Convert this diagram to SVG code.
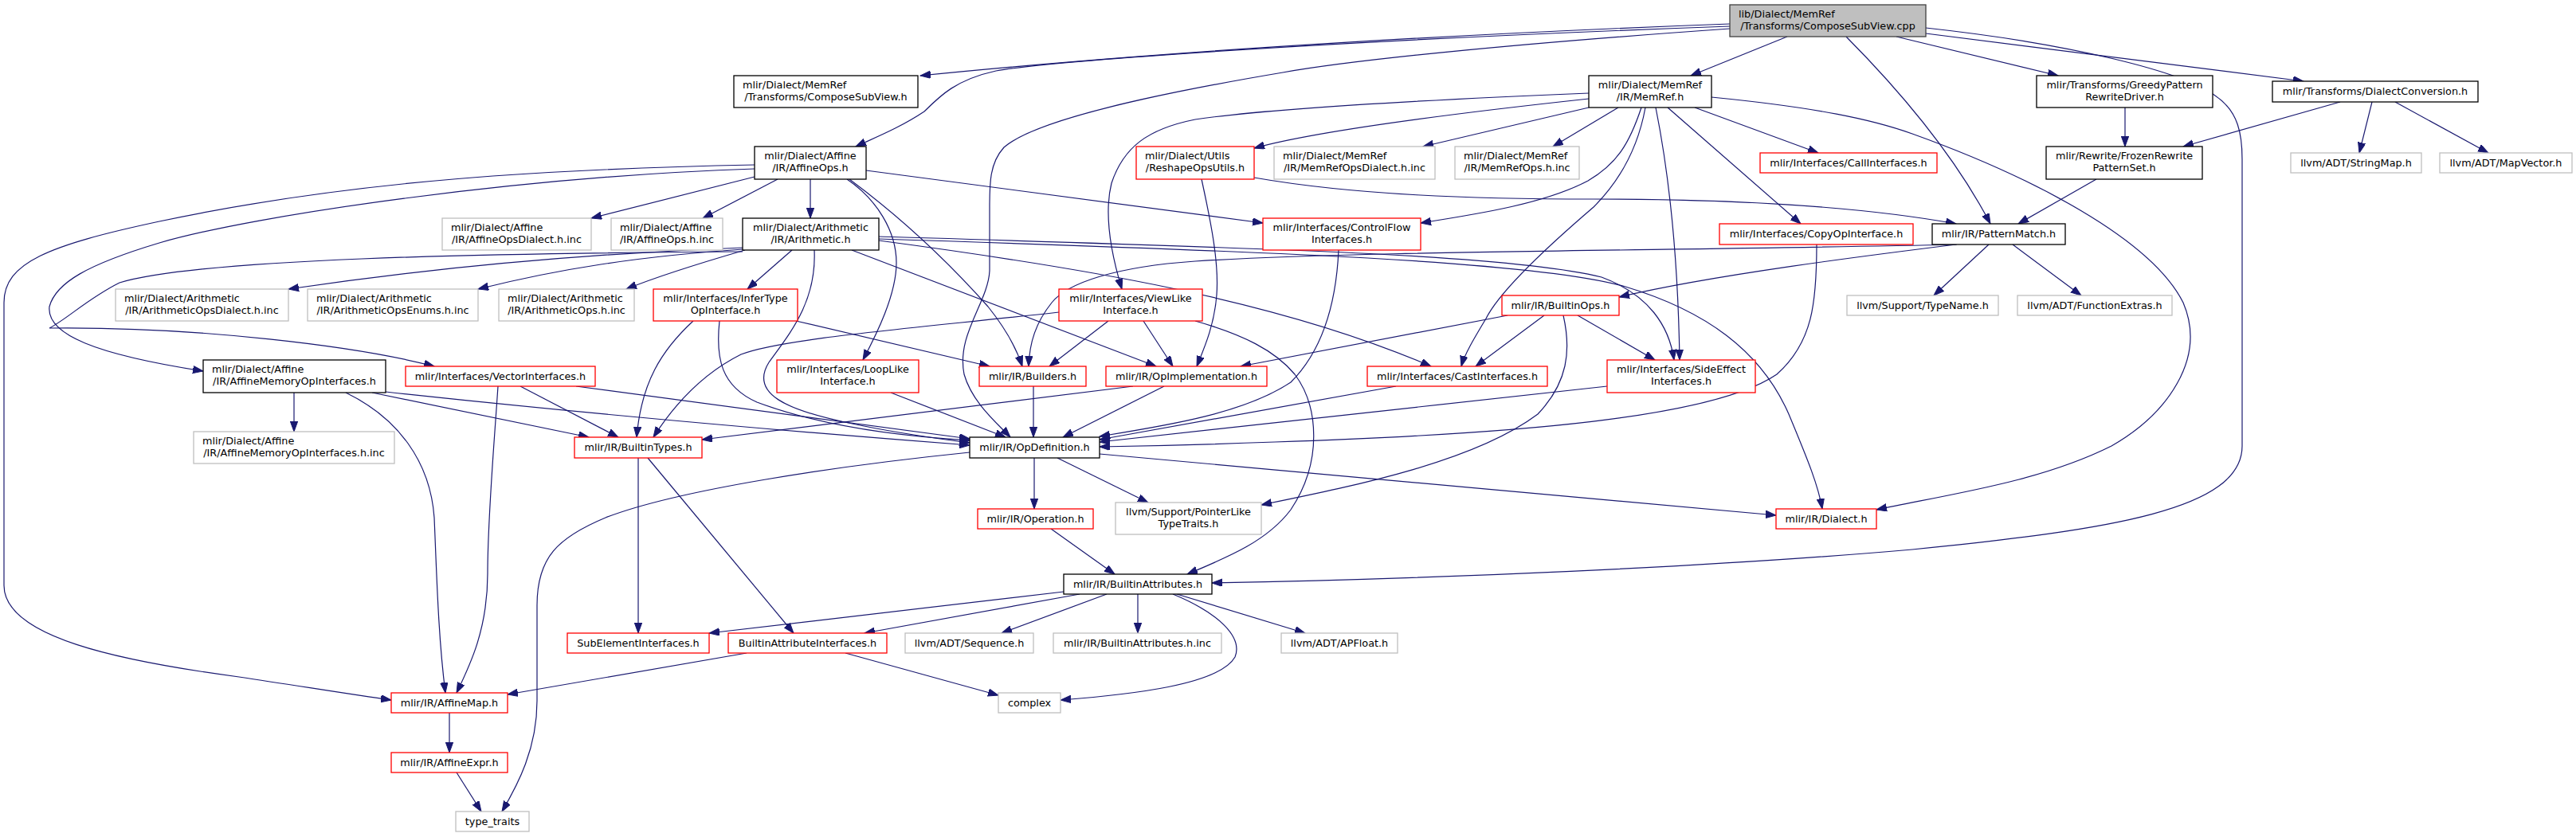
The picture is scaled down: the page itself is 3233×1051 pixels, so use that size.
<svg xmlns="http://www.w3.org/2000/svg" width="3233" height="1051" viewBox="0 0 3233 1051">
<style>
rect{fill:#fff;stroke-width:1.3}
.b{stroke:#000}
.r{stroke:#ff0000}
.g{stroke:#bfbfbf}
.m{fill:#bfbfbf;stroke:#404040}
text{font-family:"DejaVu Sans","Liberation Sans",sans-serif;font-size:12.8px;fill:#000}
.c{text-anchor:middle}
.l{text-anchor:start}
#edges path{fill:none;stroke:#191970;stroke-width:1.2;marker-end:url(#arr)}
</style>
<defs>
<marker id="arr" markerUnits="userSpaceOnUse" markerWidth="14" markerHeight="10" refX="13" refY="4.7" orient="auto">
<path d="M0,0 L13,4.7 L0,9.4 z" fill="#191970" stroke="#191970" stroke-width="1"/>
</marker>
</defs>
<rect x="0" y="0" width="3233" height="1051" style="fill:#fff;stroke:none"/>
<g id="edges">
<path d="M2171,30 C1900,40 1500,60 1155,95"/>
<path d="M2171,33 C1700,50 1330,75 1250,89 C1200,100 1180,120 1160,140 C1130,160 1100,172 1074,184"/>
<path d="M2171,36 C1900,55 1700,75 1610,91 C1450,118 1300,150 1260,185 C1242,205 1242,230 1242,260 L1242,340 C1240,380 1200,420 1210,470 C1220,505 1250,530 1268,549"/>
<path d="M2243,46 L2122,95"/>
<path d="M2380,46 L2583,95"/>
<path d="M2417,42 L2891,102"/>
<path d="M2317,46 Q2440,170 2498,281"/>
<path d="M2417,35 C2600,55 2740,90 2780,120 C2810,140 2814,170 2814,200 L2814,560 C2814,640 2650,665 2400,690 C2150,712 1800,727 1521,732"/>
<path d="M947,207 C700,212 450,225 200,278 C60,308 5,330 5,380 L5,735 C5,800 150,830 300,850 C380,862 440,872 491,879"/>
<path d="M947,212 C650,222 320,270 200,305 C110,332 70,355 62,385 C58,420 120,445 255,466"/>
<path d="M947,222 L742,274"/>
<path d="M976,225 L882,274"/>
<path d="M1017,225 L1017,274"/>
<path d="M1063,225 C1100,250 1125,290 1125,330 C1125,370 1100,420 1083,452"/>
<path d="M1066,225 C1140,280 1200,340 1240,385 C1260,410 1275,435 1283,460"/>
<path d="M1087,214 L1585,280"/>
<path d="M932,311 C750,318 550,335 362,363"/>
<path d="M932,313 C800,322 700,338 600,363"/>
<path d="M935,314 C880,330 830,345 786,363"/>
<path d="M932,316 C600,318 250,325 150,355 C110,375 85,400 62,412 C250,410 450,435 545,460"/>
<path d="M994,314 L938,363"/>
<path d="M1022,314 C1025,380 990,420 965,455 C940,495 990,515 1060,530 C1120,543 1170,550 1217,556"/>
<path d="M1069,314 L1451,460"/>
<path d="M1103,302 C1350,335 1600,375 1796,460"/>
<path d="M1103,297 C1600,312 1900,320 2010,348 C2070,370 2095,410 2101,452"/>
<path d="M1103,300 C1600,316 1930,328 2040,360 C2140,390 2210,440 2245,520 C2270,580 2282,610 2287,639"/>
<path d="M2456,307 C2100,315 1700,315 1500,328 C1400,335 1340,355 1320,380 C1300,405 1292,430 1291,460"/>
<path d="M2455,307 C2350,320 2150,345 2032,373"/>
<path d="M2496,307 L2427,371"/>
<path d="M2526,307 L2612,371"/>
<path d="M2667,135 L2667,184"/>
<path d="M2937,128 L2740,184"/>
<path d="M2977,128 L2961,192"/>
<path d="M3006,128 L3123,192"/>
<path d="M2631,225 L2533,281"/>
<path d="M1994,117 C1800,125 1600,135 1500,150 C1440,162 1410,185 1395,230 C1385,270 1395,320 1408,363"/>
<path d="M1994,124 C1800,145 1650,165 1574,186"/>
<path d="M1994,135 L1786,184"/>
<path d="M2031,135 L1949,184"/>
<path d="M2060,135 C2045,180 2030,205 1993,227 C1940,255 1860,268 1783,280"/>
<path d="M2065,135 C2055,190 2030,230 2000,260 C1930,320 1880,370 1865,400 C1850,425 1838,445 1834,460"/>
<path d="M2078,135 C2095,220 2106,320 2108,452"/>
<path d="M2093,135 L2260,281"/>
<path d="M2127,135 L2282,192"/>
<path d="M2148,122 C2280,135 2350,150 2400,168 C2550,222 2700,300 2740,380 C2770,450 2720,520 2650,560 C2560,605 2450,620 2355,640"/>
<path d="M1574,223 C1700,245 1850,250 2000,250 C2200,250 2350,262 2455,281"/>
<path d="M1508,225 C1520,280 1530,330 1527,370 C1524,410 1510,440 1502,460"/>
<path d="M1680,314 C1677,380 1660,440 1620,480 C1560,520 1460,535 1380,548"/>
<path d="M2280,307 C2280,380 2275,430 2230,470 C2150,525 1900,545 1600,555 C1520,558 1440,560 1380,561"/>
<path d="M1892,396 L1557,460"/>
<path d="M1938,396 L1852,460"/>
<path d="M1980,396 L2077,452"/>
<path d="M1962,396 C1972,440 1968,480 1930,520 C1850,580 1700,610 1583,634"/>
<path d="M1752,485 L1380,552"/>
<path d="M2017,485 L1380,555"/>
<path d="M1461,485 L1334,549"/>
<path d="M1422,485 L881,552"/>
<path d="M1391,403 L1317,460"/>
<path d="M1435,403 L1472,460"/>
<path d="M1329,392 C1150,412 980,425 930,445 C880,470 845,510 820,549"/>
<path d="M1500,403 C1560,420 1600,440 1625,470 C1655,510 1660,580 1620,640 C1590,680 1540,700 1490,721"/>
<path d="M999,403 L1242,460"/>
<path d="M903,403 C898,450 905,485 950,505 C1030,535 1130,548 1217,553"/>
<path d="M870,403 C830,440 805,480 799,549"/>
<path d="M1118,493 L1262,549"/>
<path d="M1297,485 L1297,549"/>
<path d="M369,493 L369,542"/>
<path d="M434,493 C500,525 540,580 545,650 C548,720 550,800 559,870"/>
<path d="M467,493 L739,549"/>
<path d="M484,492 C650,510 900,535 1217,559"/>
<path d="M723,485 L1217,551"/>
<path d="M625,485 C620,560 612,650 612,720 C612,790 590,835 573,870"/>
<path d="M653,485 L776,549"/>
<path d="M801,575 L801,795"/>
<path d="M813,575 L996,795"/>
<path d="M1298,575 L1298,639"/>
<path d="M1327,575 L1441,631"/>
<path d="M1217,568 C1050,585 850,615 760,650 C700,675 674,700 674,760 L674,880 C674,940 650,985 630,1019"/>
<path d="M1380,570 L2229,647"/>
<path d="M1319,664 L1399,721"/>
<path d="M1335,743 L890,795"/>
<path d="M1355,746 L1085,795"/>
<path d="M1389,746 L1257,795"/>
<path d="M1428,746 L1428,795"/>
<path d="M1472,746 C1530,770 1560,800 1550,825 C1530,860 1420,872 1331,879"/>
<path d="M1477,746 L1638,795"/>
<path d="M1061,820 L1253,873"/>
<path d="M937,820 L637,872"/>
<path d="M564,895 L564,945"/>
<path d="M573,970 L604,1019"/>
</g>
<g id="n0"><rect class="m" x="2171" y="6" width="246" height="40"/><text class="l" x="2182" y="22">lib/Dialect/MemRef</text><text class="c" x="2294" y="37">/Transforms/ComposeSubView.cpp</text></g>
<g id="n1"><rect class="b" x="921" y="95" width="231" height="40"/><text class="l" x="932" y="111">mlir/Dialect/MemRef</text><text class="c" x="1036.5" y="126">/Transforms/ComposeSubView.h</text></g>
<g id="n2"><rect class="b" x="947" y="184" width="140" height="41"/><text class="c" x="1017" y="200">mlir/Dialect/Affine</text><text class="c" x="1017" y="215">/IR/AffineOps.h</text></g>
<g id="n3"><rect class="b" x="1994" y="95" width="154" height="40"/><text class="c" x="2071" y="111">mlir/Dialect/MemRef</text><text class="c" x="2071" y="126">/IR/MemRef.h</text></g>
<g id="n4"><rect class="b" x="2556" y="95" width="221" height="40"/><text class="c" x="2666.5" y="111">mlir/Transforms/GreedyPattern</text><text class="c" x="2666.5" y="126">RewriteDriver.h</text></g>
<g id="n5"><rect class="b" x="2852" y="102" width="258" height="26"/><text class="c" x="2981" y="119">mlir/Transforms/DialectConversion.h</text></g>
<g id="n6"><rect class="b" x="2568" y="184" width="196" height="41"/><text class="c" x="2666" y="200">mlir/Rewrite/FrozenRewrite</text><text class="c" x="2666" y="215">PatternSet.h</text></g>
<g id="n7"><rect class="g" x="2875" y="192" width="164" height="25"/><text class="c" x="2957" y="208.5">llvm/ADT/StringMap.h</text></g>
<g id="n8"><rect class="g" x="3062" y="192" width="166" height="25"/><text class="c" x="3145" y="208.5">llvm/ADT/MapVector.h</text></g>
<g id="n9"><rect class="b" x="2425" y="281" width="167" height="26"/><text class="c" x="2508.5" y="298">mlir/IR/PatternMatch.h</text></g>
<g id="n10"><rect class="g" x="555" y="274" width="187" height="40"/><text class="l" x="566" y="290">mlir/Dialect/Affine</text><text class="c" x="648.5" y="305">/IR/AffineOpsDialect.h.inc</text></g>
<g id="n11"><rect class="g" x="767" y="274" width="140" height="40"/><text class="l" x="778" y="290">mlir/Dialect/Affine</text><text class="c" x="837" y="305">/IR/AffineOps.h.inc</text></g>
<g id="n12"><rect class="b" x="932" y="274" width="171" height="40"/><text class="c" x="1017.5" y="290">mlir/Dialect/Arithmetic</text><text class="c" x="1017.5" y="305">/IR/Arithmetic.h</text></g>
<g id="n13"><rect class="r" x="1426" y="184" width="148" height="41"/><text class="l" x="1437" y="200">mlir/Dialect/Utils</text><text class="c" x="1500" y="215">/ReshapeOpsUtils.h</text></g>
<g id="n14"><rect class="g" x="1599" y="184" width="202" height="41"/><text class="l" x="1610" y="200">mlir/Dialect/MemRef</text><text class="c" x="1700" y="215">/IR/MemRefOpsDialect.h.inc</text></g>
<g id="n15"><rect class="g" x="1826" y="184" width="156" height="41"/><text class="l" x="1837" y="200">mlir/Dialect/MemRef</text><text class="c" x="1904" y="215">/IR/MemRefOps.h.inc</text></g>
<g id="n16"><rect class="r" x="2209" y="192" width="222" height="25"/><text class="c" x="2320" y="208.5">mlir/Interfaces/CallInterfaces.h</text></g>
<g id="n17"><rect class="r" x="1585" y="274" width="198" height="40"/><text class="c" x="1684" y="290">mlir/Interfaces/ControlFlow</text><text class="c" x="1684" y="305">Interfaces.h</text></g>
<g id="n18"><rect class="r" x="2158" y="281" width="243" height="26"/><text class="c" x="2279.5" y="298">mlir/Interfaces/CopyOpInterface.h</text></g>
<g id="n19"><rect class="g" x="145" y="363" width="217" height="40"/><text class="l" x="156" y="379">mlir/Dialect/Arithmetic</text><text class="c" x="253.5" y="394">/IR/ArithmeticOpsDialect.h.inc</text></g>
<g id="n20"><rect class="g" x="386" y="363" width="214" height="40"/><text class="l" x="397" y="379">mlir/Dialect/Arithmetic</text><text class="c" x="493" y="394">/IR/ArithmeticOpsEnums.h.inc</text></g>
<g id="n21"><rect class="g" x="626" y="363" width="170" height="40"/><text class="l" x="637" y="379">mlir/Dialect/Arithmetic</text><text class="c" x="711" y="394">/IR/ArithmeticOps.h.inc</text></g>
<g id="n22"><rect class="r" x="820" y="363" width="181" height="40"/><text class="c" x="910.5" y="379">mlir/Interfaces/InferType</text><text class="c" x="910.5" y="394">OpInterface.h</text></g>
<g id="n23"><rect class="r" x="1329" y="363" width="180" height="40"/><text class="c" x="1419" y="379">mlir/Interfaces/ViewLike</text><text class="c" x="1419" y="394">Interface.h</text></g>
<g id="n24"><rect class="r" x="1885" y="371" width="147" height="25"/><text class="c" x="1958.5" y="387.5">mlir/IR/BuiltinOps.h</text></g>
<g id="n25"><rect class="g" x="2318" y="371" width="190" height="25"/><text class="c" x="2413" y="387.5">llvm/Support/TypeName.h</text></g>
<g id="n26"><rect class="g" x="2532" y="371" width="194" height="25"/><text class="c" x="2629" y="387.5">llvm/ADT/FunctionExtras.h</text></g>
<g id="n27"><rect class="b" x="255" y="452" width="229" height="41"/><text class="l" x="266" y="468">mlir/Dialect/Affine</text><text class="c" x="369.5" y="483">/IR/AffineMemoryOpInterfaces.h</text></g>
<g id="n28"><rect class="r" x="509" y="460" width="238" height="25"/><text class="c" x="628" y="476.5">mlir/Interfaces/VectorInterfaces.h</text></g>
<g id="n29"><rect class="r" x="975" y="452" width="178" height="41"/><text class="c" x="1064" y="468">mlir/Interfaces/LoopLike</text><text class="c" x="1064" y="483">Interface.h</text></g>
<g id="n30"><rect class="r" x="1229" y="460" width="134" height="25"/><text class="c" x="1296" y="476.5">mlir/IR/Builders.h</text></g>
<g id="n31"><rect class="r" x="1388" y="460" width="202" height="25"/><text class="c" x="1489" y="476.5">mlir/IR/OpImplementation.h</text></g>
<g id="n32"><rect class="r" x="1716" y="460" width="226" height="25"/><text class="c" x="1829" y="476.5">mlir/Interfaces/CastInterfaces.h</text></g>
<g id="n33"><rect class="r" x="2017" y="452" width="186" height="41"/><text class="c" x="2110" y="468">mlir/Interfaces/SideEffect</text><text class="c" x="2110" y="483">Interfaces.h</text></g>
<g id="n34"><rect class="g" x="243" y="542" width="252" height="40"/><text class="l" x="254" y="558">mlir/Dialect/Affine</text><text class="c" x="369" y="573">/IR/AffineMemoryOpInterfaces.h.inc</text></g>
<g id="n35"><rect class="r" x="721" y="549" width="160" height="26"/><text class="c" x="801" y="566">mlir/IR/BuiltinTypes.h</text></g>
<g id="n36"><rect class="b" x="1217" y="549" width="163" height="26"/><text class="c" x="1298.5" y="566">mlir/IR/OpDefinition.h</text></g>
<g id="n37"><rect class="r" x="1227" y="639" width="145" height="25"/><text class="c" x="1299.5" y="655.5">mlir/IR/Operation.h</text></g>
<g id="n38"><rect class="g" x="1400" y="631" width="183" height="40"/><text class="c" x="1491.5" y="647">llvm/Support/PointerLike</text><text class="c" x="1491.5" y="662">TypeTraits.h</text></g>
<g id="n39"><rect class="r" x="2229" y="639" width="126" height="25"/><text class="c" x="2292" y="655.5">mlir/IR/Dialect.h</text></g>
<g id="n40"><rect class="b" x="1335" y="721" width="186" height="25"/><text class="c" x="1428" y="737.5">mlir/IR/BuiltinAttributes.h</text></g>
<g id="n41"><rect class="r" x="712" y="795" width="178" height="25"/><text class="c" x="801" y="811.5">SubElementInterfaces.h</text></g>
<g id="n42"><rect class="r" x="914" y="795" width="199" height="25"/><text class="c" x="1013.5" y="811.5">BuiltinAttributeInterfaces.h</text></g>
<g id="n43"><rect class="g" x="1136" y="795" width="161" height="25"/><text class="c" x="1216.5" y="811.5">llvm/ADT/Sequence.h</text></g>
<g id="n44"><rect class="g" x="1322" y="795" width="211" height="25"/><text class="c" x="1427.5" y="811.5">mlir/IR/BuiltinAttributes.h.inc</text></g>
<g id="n45"><rect class="g" x="1608" y="795" width="146" height="25"/><text class="c" x="1681" y="811.5">llvm/ADT/APFloat.h</text></g>
<g id="n46"><rect class="r" x="491" y="870" width="146" height="25"/><text class="c" x="564" y="886.5">mlir/IR/AffineMap.h</text></g>
<g id="n47"><rect class="g" x="1253" y="870" width="78" height="25"/><text class="c" x="1292" y="886.5">complex</text></g>
<g id="n48"><rect class="r" x="491" y="945" width="146" height="25"/><text class="c" x="564" y="961.5">mlir/IR/AffineExpr.h</text></g>
<g id="n49"><rect class="g" x="572" y="1019" width="92" height="25"/><text class="c" x="618" y="1035.5">type_traits</text></g>
</svg>
